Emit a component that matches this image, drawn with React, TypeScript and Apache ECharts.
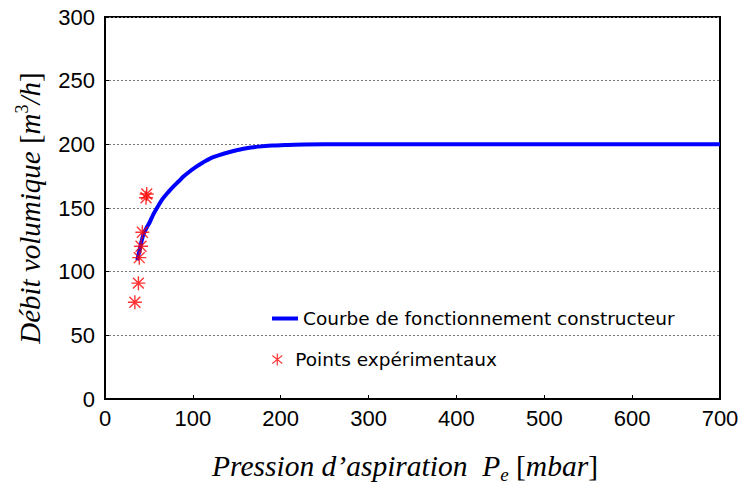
import React, { useEffect, useRef } from "react";
import * as echarts from "echarts";

const curveX = [36.8, 40, 43.6, 47, 51, 55, 60, 66, 72, 78, 84, 89, 96, 104, 112, 120, 130, 142, 152, 161, 175, 190, 205, 216, 250, 300, 400, 500, 600, 700];
const curveY = [109, 119, 129, 134, 139, 145, 151, 157.5, 162.5, 167, 171, 174.5, 178.5, 182.5, 186, 189, 191.5, 194, 195.7, 197, 198.2, 199, 199.4, 199.7, 200, 200, 200, 200, 200, 200];
const pointsX = [34, 38, 39, 41, 42.5, 46.7, 47.5];
const pointsY = [76, 91, 111, 120, 131, 158, 161];
const xTicks = [0, 100, 200, 300, 400, 500, 600, 700];
const yTicks = [0, 50, 100, 150, 200, 250, 300];
const seriesNames = ["Courbe de fonctionnement constructeur", "Points expérimentaux"];

const ASTERISK =
  "path://M9 0H11V20H9Z M0 9H20V11H0Z M1.5 2.9L2.9 1.5L18.5 17.1L17.1 18.5Z M17.1 1.5L18.5 2.9L2.9 18.5L1.5 17.1Z";
const ASTERISK6 =
  "path://M9 0H11V20H9Z M1.2 4.1L2.2 2.4L18.8 15.9L17.8 17.6Z M17.8 2.4L18.8 4.1L2.2 17.6L1.2 15.9Z";

export default function App() {
  const ref = useRef<HTMLDivElement>(null);
  useEffect(() => {
    if (!ref.current) return;
    const chart = echarts.init(ref.current, null, { renderer: "svg" });
    const serif = "'Liberation Serif', 'Times New Roman', serif";
    const sans = "'Liberation Sans', Arial, sans-serif";
    const legendFont = { fontFamily: "'DejaVu Sans', Tahoma, sans-serif", fontSize: 18.5, color: "#000" };
    chart.setOption({
      animation: false,
      backgroundColor: "#fff",
      grid: {
        left: 105,
        top: 17,
        right: 27,
        bottom: 85,
        show: true,
        borderColor: "#000",
        borderWidth: 2,
        backgroundColor: "transparent",
      },
      xAxis: {
        type: "value",
        min: xTicks[0],
        max: xTicks[xTicks.length - 1],
        interval: 100,
        axisLine: { show: true, lineStyle: { color: "#000", width: 2 } },
        axisTick: { show: true, inside: true, length: 4, lineStyle: { color: "#000" } },
        axisLabel: { color: "#000", fontSize: 22, fontFamily: sans, margin: 8 },
        splitLine: { show: false },
      },
      yAxis: {
        type: "value",
        min: yTicks[0],
        max: yTicks[yTicks.length - 1],
        interval: 50,
        axisLine: { show: true, lineStyle: { color: "#000", width: 2 } },
        axisTick: { show: true, inside: true, length: 4, lineStyle: { color: "#000" } },
        axisLabel: { color: "#000", fontSize: 22, fontFamily: sans, margin: 10 },
        splitLine: { show: true, lineStyle: { color: "#777", type: [2, 2], width: 1 } },
      },
      legend: [
        {
          data: [{ name: seriesNames[0], icon: "rect" }],
          left: 272,
          top: 309,
          padding: 0,
          itemWidth: 26,
          itemHeight: 4,
          textStyle: legendFont,
          selectedMode: false,
        },
        {
          data: [{ name: seriesNames[1], icon: ASTERISK6, itemStyle: { color: "#ff0000" } }],
          left: 272,
          top: 350,
          padding: 0,
          itemWidth: 26,
          itemHeight: 12,
          textStyle: legendFont,
          selectedMode: false,
        },
      ],
      series: [
        {
          name: seriesNames[0],
          type: "line",
          data: curveX.map((x, i) => [x, curveY[i]]),
          smooth: 0.3,
          showSymbol: false,
          symbol: "none",
          lineStyle: { color: "#0000ff", width: 4 },
          itemStyle: { color: "#0000ff" },
          z: 2,
        },
        {
          name: seriesNames[1],
          type: "scatter",
          data: pointsX.map((x, i) => [x, pointsY[i]]),
          symbol: ASTERISK,
          symbolSize: 14,
          itemStyle: { color: "#ff0000" },
          z: 3,
        },
      ],
      graphic: [
        {
          type: "text",
          x: 405,
          y: 466,
          style: {
            text: "{i|Pression d’aspiration  P}{sub|e}{n| [}{i|mbar}{n|]}",
            align: "center",
            verticalAlign: "middle",
            rich: {
              i: { fontFamily: serif, fontStyle: "italic", fontSize: 29.5, fill: "#000", lineHeight: 34 },
              n: { fontFamily: serif, fontSize: 29.5, fill: "#000", lineHeight: 34 },
              sub: { fontFamily: serif, fontStyle: "italic", fontSize: 19, fill: "#000", lineHeight: 34, padding: [16, 0, 0, 0] },
            },
          },
        },
        {
          type: "text",
          x: 30,
          y: 208,
          rotation: Math.PI / 2,
          style: {
            text: "{i|Débit volumique }{n|[}{i|m}{sup|3}{i|/h}{n|]}",
            align: "center",
            verticalAlign: "middle",
            rich: {
              i: { fontFamily: serif, fontStyle: "italic", fontSize: 29, fill: "#000", lineHeight: 34 },
              n: { fontFamily: serif, fontSize: 29, fill: "#000", lineHeight: 34 },
              sup: { fontFamily: serif, fontSize: 18, fill: "#000", lineHeight: 34, padding: [0, 0, 16, 0] },
            },
          },
        },
      ],
    });
    return () => chart.dispose();
  }, []);
  return (
    <div
      ref={ref}
      style={{ position: "absolute", left: 0, top: 0, width: 747, height: 484 }}
    />
  );
}
